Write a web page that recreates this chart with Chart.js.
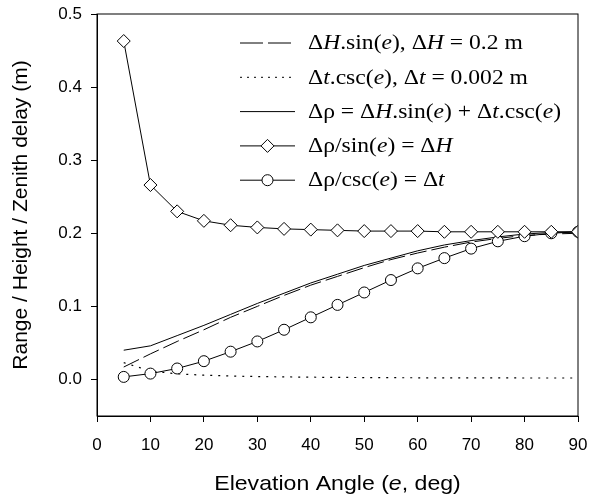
<!DOCTYPE html>
<html>
<head>
<meta charset="utf-8">
<script src="https://cdn.jsdelivr.net/npm/chart.js@4.4.0/dist/chart.umd.min.js"></script>
<style>
  body { margin: 0; background: #fff; }
  #wrap { width: 591px; height: 501px; position: relative; }
</style>
</head>
<body>
<div id="wrap"><canvas id="myChart"></canvas></div>
<script>
// elevation angles (deg)
const angles = [5, 10, 15, 20, 25, 30, 35, 40, 45, 50, 55, 60, 65, 70, 75, 80, 85, 90];

// values (m)
const heightSin = [0.017, 0.035, 0.052, 0.068, 0.085, 0.100, 0.115, 0.129, 0.141, 0.153, 0.164, 0.173, 0.181, 0.188, 0.193, 0.197, 0.199, 0.200];
const zenithCsc = [0.023, 0.0115, 0.0077, 0.0058, 0.0047, 0.0040, 0.0035, 0.0031, 0.0028, 0.0026, 0.0024, 0.0023, 0.0022, 0.0021, 0.0021, 0.0020, 0.0020, 0.0020];
const rangeSum = [0.040, 0.046, 0.060, 0.074, 0.089, 0.104, 0.118, 0.132, 0.144, 0.156, 0.166, 0.176, 0.184, 0.190, 0.195, 0.199, 0.201, 0.202];
const rangeOverSin = [0.463, 0.266, 0.230, 0.217, 0.211, 0.208, 0.206, 0.205, 0.204, 0.203, 0.203, 0.203, 0.202, 0.202, 0.202, 0.202, 0.202, 0.202];
const rangeOverCsc = [0.0035, 0.008, 0.015, 0.025, 0.038, 0.052, 0.068, 0.085, 0.102, 0.119, 0.136, 0.152, 0.166, 0.179, 0.189, 0.196, 0.200, 0.202];

const yTicks = [0, 0.1, 0.2, 0.3, 0.4, 0.5];

const sans = "'Liberation Sans', Arial, sans-serif";
const serif = "'Liberation Serif', 'Times New Roman', serif";

const toPoints = (vals) => vals.map((v, i) => ({ x: angles[i], y: v }));

// legend rows: [text, italic?] pieces
const legendRows = [
  { dash: [23, 5], marker: null, parts: [['Δ', 0], ['H', 1], ['.sin(', 0], ['e', 1], ['), Δ', 0], ['H', 1], [' = 0.2 m', 0]] },
  { dash: [2, 5], marker: null, parts: [['Δ', 0], ['t', 1], ['.csc(', 0], ['e', 1], ['), Δ', 0], ['t', 1], [' = 0.002 m', 0]] },
  { dash: [], marker: null, parts: [['Δρ = Δ', 0], ['H', 1], ['.sin(', 0], ['e', 1], [') + Δ', 0], ['t', 1], ['.csc(', 0], ['e', 1], [')', 0]] },
  { dash: [], marker: 'diamond', parts: [['Δρ/sin(', 0], ['e', 1], [') = Δ', 0], ['H', 1]] },
  { dash: [], marker: 'circle', parts: [['Δρ/csc(', 0], ['e', 1], [') = Δ', 0], ['t', 1]] }
];

// text pieces, stretched a bit sideways like the original
const partsWidth = (ctx, parts, size, family) => {
  let w = 0;
  parts.forEach(([txt, it]) => {
    ctx.font = (it ? 'italic ' : '') + size + 'px ' + family;
    w += ctx.measureText(txt).width;
  });
  return w;
};

const drawParts = (ctx, parts, x, y, size, family, stretch) => {
  ctx.save();
  ctx.translate(x, y);
  ctx.scale(stretch, 1);
  let cx = 0;
  parts.forEach(([txt, it]) => {
    ctx.font = (it ? 'italic ' : '') + size + 'px ' + family;
    ctx.fillText(txt, cx, 0);
    cx += ctx.measureText(txt).width;
  });
  ctx.restore();
};

const extras = {
  id: 'extras',
  afterDraw(chart) {
    const ctx = chart.ctx;
    const a = chart.chartArea;
    ctx.save();
    // frame
    ctx.strokeStyle = '#000';
    ctx.lineWidth = 1;
    ctx.strokeRect(a.left, a.top, a.right - a.left, a.bottom - a.top);

    // legend
    ctx.fillStyle = '#000';
    ctx.textBaseline = 'middle';
    legendRows.forEach((row, i) => {
      const y = 43 + i * 34.3;
      ctx.setLineDash(row.dash);
      ctx.beginPath();
      ctx.moveTo(240, y);
      ctx.lineTo(295, y);
      ctx.stroke();
      ctx.setLineDash([]);
      if (row.marker) {
        ctx.beginPath();
        if (row.marker === 'diamond') {
          ctx.moveTo(267.5, y - 6.5);
          ctx.lineTo(274, y);
          ctx.lineTo(267.5, y + 6.5);
          ctx.lineTo(261, y);
          ctx.closePath();
        } else {
          ctx.arc(267.5, y, 5.5, 0, Math.PI * 2);
        }
        ctx.fillStyle = '#fff';
        ctx.fill();
        ctx.stroke();
        ctx.fillStyle = '#000';
      }
      drawParts(ctx, row.parts, 308, y + 1, 20, serif, 1.18);
    });

    // x axis title with italic e
    const xParts = [['Elevation Angle (', 0], ['e', 1], [', deg)', 0]];
    const st = 1.1;
    const w = partsWidth(ctx, xParts, 21, sans) * st;
    drawParts(ctx, xParts, (a.left + a.right) / 2 - w / 2, 484, 21, sans, st);
    ctx.restore();
  }
};

const ctx = document.getElementById('myChart').getContext('2d');
const myChart = new Chart(ctx, {
  type: 'line',
  data: {
    datasets: [
      { label: 'Δρ/sin(e) = ΔH', data: toPoints(rangeOverSin), borderColor: '#000', borderWidth: 1,
        pointStyle: 'rectRot', pointRadius: 6.5, pointBackgroundColor: '#fff', pointBorderColor: '#000', pointBorderWidth: 1, order: 1 },
      { label: 'Δρ/csc(e) = Δt', data: toPoints(rangeOverCsc), borderColor: '#000', borderWidth: 1,
        pointStyle: 'circle', pointRadius: 5.5, pointBackgroundColor: '#fff', pointBorderColor: '#000', pointBorderWidth: 1, order: 2 },
      { label: 'Δρ = ΔH.sin(e) + Δt.csc(e)', data: toPoints(rangeSum), borderColor: '#000', borderWidth: 1, pointRadius: 0, order: 3 },
      { label: 'ΔH.sin(e), ΔH = 0.2 m', data: toPoints(heightSin), borderColor: '#000', borderWidth: 1, borderDash: [17, 5], pointRadius: 0, order: 4 },
      { label: 'Δt.csc(e), Δt = 0.002 m', data: toPoints(zenithCsc), borderColor: '#000', borderWidth: 1.2, borderDash: [2, 6], pointRadius: 0, order: 5 }
    ]
  },
  options: {
    responsive: true,
    maintainAspectRatio: false,
    animation: false,
    layout: { padding: { top: 14, right: 13, left: 0, bottom: 0 } },
    plugins: { legend: { display: false }, tooltip: { enabled: false } },
    scales: {
      x: {
        type: 'linear',
        min: 0,
        max: 90,
        afterFit: (scale) => { scale.height = 85; scale.paddingLeft = 0; scale.paddingRight = 0; },
        ticks: { stepSize: 10, color: '#000', padding: 13, font: { family: sans, size: 17 } },
        grid: { drawOnChartArea: false, drawTicks: true, tickLength: 6, color: '#000' },
        border: { color: '#000', width: 1 }
      },
      y: {
        min: -0.05,
        max: 0.5,
        afterFit: (scale) => { scale.width = 97; scale.paddingTop = 0; scale.paddingBottom = 0; },
        afterBuildTicks: (scale) => { scale.ticks = yTicks.map(v => ({ value: v })); },
        ticks: { color: '#000', padding: 9, font: { family: sans, size: 17 }, callback: (v) => Number(v).toFixed(1) },
        grid: { drawOnChartArea: false, drawTicks: true, tickLength: 6, color: '#000' },
        border: { color: '#000', width: 1 },
        title: { display: true, text: 'Range / Height / Zenith delay (m)', color: '#000', padding: { top: 9, bottom: 0 },
          font: { family: sans, size: 21 } }
      }
    }
  },
  plugins: [extras]
});
</script>
</body>
</html>
